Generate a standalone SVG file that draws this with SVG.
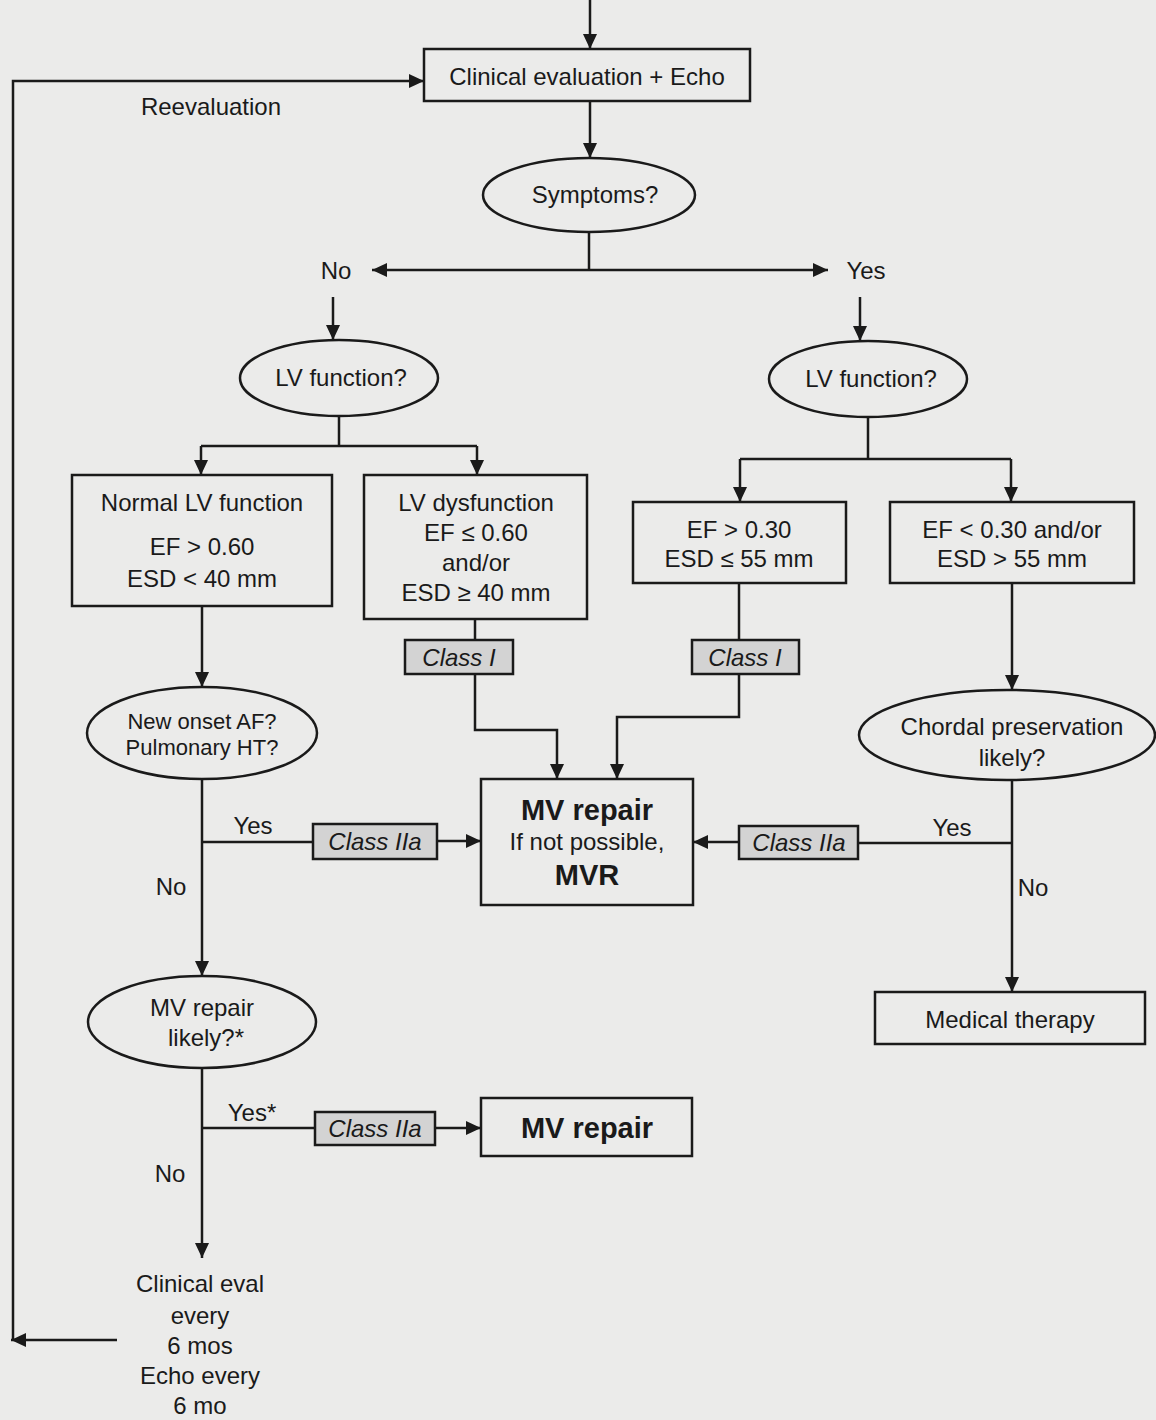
<svg xmlns="http://www.w3.org/2000/svg" width="1156" height="1420" viewBox="0 0 1156 1420">
<defs>
<marker id="ah" markerUnits="userSpaceOnUse" markerWidth="15" markerHeight="14" refX="15" refY="7" orient="auto">
<path d="M0,0 L15,7 L0,14 z" fill="#1a1a1a"/>
</marker>
<style>
.bg{fill:#ebebea}
.box{fill:none;stroke:#1a1a1a;stroke-width:2.5}
.cls{fill:#d3d3d3;stroke:#1a1a1a;stroke-width:2.5}
.ln{fill:none;stroke:#1a1a1a;stroke-width:2.5}
.ar{fill:none;stroke:#1a1a1a;stroke-width:2.5;marker-end:url(#ah)}
text{font-family:"Liberation Sans",Arial,sans-serif;font-size:24px;fill:#1a1a1a;text-anchor:middle}
.it{font-style:italic}
.b{font-weight:bold;font-size:29px}
.sm{font-size:22px}
</style>
</defs>
<rect class="bg" x="0" y="0" width="1156" height="1420"/>

<g id="connectors">
<path class="ar" d="M590,0 V49"/>
<path class="ar" d="M590,101 V158"/>
<path class="ln" d="M589,232 V270"/>
<path class="ar" d="M589,270 H372"/>
<path class="ar" d="M589,270 H828"/>
<path class="ar" d="M333,297 V340"/>
<path class="ar" d="M860,297 V341"/>
<path class="ln" d="M339,416 V446 M201,446 H477"/>
<path class="ar" d="M201,446 V475"/>
<path class="ar" d="M477,446 V475"/>
<path class="ln" d="M868,417 V459 M740,459 H1011"/>
<path class="ar" d="M740,459 V502"/>
<path class="ar" d="M1011,459 V502"/>
<path class="ln" d="M475,619 V640"/>
<path class="ar" d="M475,674 V730 H557 V779"/>
<path class="ln" d="M739,583 V640"/>
<path class="ar" d="M739,674 V717 H617 V779"/>
<path class="ar" d="M202,606 V687"/>
<path class="ar" d="M202,779 V976"/>
<path class="ln" d="M202,842 H313"/>
<path class="ar" d="M437,841 H481"/>
<path class="ar" d="M1012,583 V690"/>
<path class="ar" d="M1012,780 V992"/>
<path class="ln" d="M1012,843 H858"/>
<path class="ar" d="M739,842 H693"/>
<path class="ar" d="M202,1068 V1258"/>
<path class="ln" d="M202,1128 H315"/>
<path class="ar" d="M435,1128 H481"/>
<path class="ar" d="M117,1340 H11"/>
<path class="ar" d="M13,1341 V81 H424"/>
<text x="211" y="115">Reevaluation</text>
<text x="336" y="279">No</text>
<text x="866" y="279">Yes</text>
<text x="253" y="834">Yes</text>
<text x="171" y="895">No</text>
<text x="952" y="836">Yes</text>
<text x="1033" y="896">No</text>
<text x="252" y="1121">Yes*</text>
<text x="170" y="1182">No</text>
</g>

<g id="clinical-eval">
<rect class="box" x="424" y="49" width="326" height="52"/>
<text x="587" y="85">Clinical evaluation + Echo</text>
</g>

<g id="symptoms">
<ellipse class="box" cx="589" cy="195" rx="106" ry="37"/>
<text x="595" y="203">Symptoms?</text>
</g>

<g id="lv-function-left">
<ellipse class="box" cx="339" cy="378" rx="99" ry="38"/>
<text x="341" y="386">LV function?</text>
</g>

<g id="lv-function-right">
<ellipse class="box" cx="868" cy="379" rx="99" ry="38"/>
<text x="871" y="387">LV function?</text>
</g>

<g id="normal-lv">
<rect class="box" x="72" y="475" width="260" height="131"/>
<text x="202" y="511">Normal LV function</text>
<text x="202" y="555">EF &gt; 0.60</text>
<text x="202" y="587">ESD &lt; 40 mm</text>
</g>

<g id="lv-dysfunction">
<rect class="box" x="364" y="475" width="223" height="144"/>
<text x="476" y="511">LV dysfunction</text>
<text x="476" y="541">EF ≤ 0.60</text>
<text x="476" y="571">and/or</text>
<text x="476" y="601">ESD ≥ 40 mm</text>
</g>

<g id="ef-gt-030">
<rect class="box" x="633" y="502" width="213" height="81"/>
<text x="739" y="538">EF &gt; 0.30</text>
<text x="739" y="567">ESD ≤ 55 mm</text>
</g>

<g id="ef-lt-030">
<rect class="box" x="890" y="502" width="244" height="81"/>
<text x="1012" y="538">EF &lt; 0.30 and/or</text>
<text x="1012" y="567">ESD &gt; 55 mm</text>
</g>

<g id="class-i-left">
<rect class="cls" x="405" y="640" width="108" height="34"/>
<text class="it" x="459" y="666">Class I</text>
</g>

<g id="class-i-right">
<rect class="cls" x="692" y="640" width="107" height="34"/>
<text class="it" x="745" y="666">Class I</text>
</g>

<g id="new-onset">
<ellipse class="box" cx="202" cy="733" rx="115" ry="46"/>
<text class="sm" x="202" y="729">New onset AF?</text>
<text class="sm" x="202" y="755">Pulmonary HT?</text>
</g>

<g id="chordal">
<ellipse class="box" cx="1007" cy="735" rx="148" ry="45"/>
<text x="1012" y="735">Chordal preservation</text>
<text x="1012" y="766">likely?</text>
</g>

<g id="class-iia-left">
<rect class="cls" x="313" y="824" width="124" height="35"/>
<text class="it" x="375" y="850">Class IIa</text>
</g>

<g id="mv-repair-mvr">
<rect class="box" x="481" y="779" width="212" height="126"/>
<text class="b" x="587" y="820">MV repair</text>
<text x="587" y="850">If not possible,</text>
<text class="b" x="587" y="885">MVR</text>
</g>

<g id="class-iia-right">
<rect class="cls" x="739" y="826" width="119" height="33"/>
<text class="it" x="799" y="851">Class IIa</text>
</g>

<g id="medical-therapy">
<rect class="box" x="875" y="992" width="270" height="52"/>
<text x="1010" y="1028">Medical therapy</text>
</g>

<g id="mv-repair-likely">
<ellipse class="box" cx="202" cy="1022" rx="114" ry="46"/>
<text x="202" y="1016">MV repair</text>
<text x="206" y="1046">likely?*</text>
</g>

<g id="class-iia-bottom">
<rect class="cls" x="315" y="1112" width="120" height="33"/>
<text class="it" x="375" y="1137">Class IIa</text>
</g>

<g id="mv-repair">
<rect class="box" x="481" y="1098" width="211" height="58"/>
<text class="b" x="587" y="1138">MV repair</text>
</g>

<g id="followup">
<text x="200" y="1292">Clinical eval</text>
<text x="200" y="1324">every</text>
<text x="200" y="1354">6 mos</text>
<text x="200" y="1384">Echo every</text>
<text x="200" y="1414">6 mo</text>
</g>
</svg>
